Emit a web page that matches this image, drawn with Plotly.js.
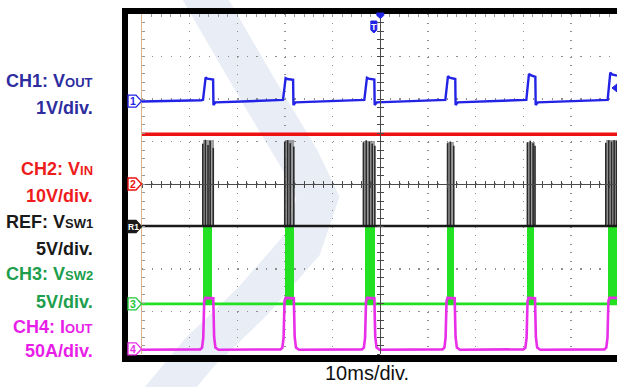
<!DOCTYPE html>
<html><head><meta charset="utf-8">
<script src="https://cdn.plot.ly/plotly-3.0.1.min.js"></script>
<style>html,body{margin:0;padding:0;background:#fff;overflow:hidden}#chart{width:617px;height:387px}</style>
</head><body><div id="chart"></div>
<script>
// ---- data: time in ms (10 ms/div), values in screen divisions (0 = centre graticule line)
const X_MAX = 99.65;
const Y_MIN = -4, Y_MAX = 4;

// CH1: Vout
const ch1T = [0, 6.0, 12.40, 12.80, 13.35, 13.70, 14.92, 14.99, 15.40, 21.0,
  29.18, 29.58, 30.13, 30.48, 31.70, 31.77, 32.20, 38.0,
  46.24, 46.64, 47.19, 47.54, 48.74, 48.81, 49.24, 55.0,
  63.24, 63.64, 64.19, 64.54, 65.72, 65.79, 66.22, 72.0,
  80.23, 80.63, 81.18, 81.53, 82.52, 82.59, 83.02, 89.0,
  97.29, 97.69, 98.24, 98.60, 99.65];
const ch1V = [1.94, 1.95, 1.97, 1.98, 2.51, 2.48, 2.46, 1.86, 1.92, 1.94,
  1.97, 1.98, 2.49, 2.47, 2.45, 1.86, 1.92, 1.94,
  1.97, 1.98, 2.50, 2.48, 2.46, 1.86, 1.92, 1.94,
  1.97, 1.98, 2.54, 2.50, 2.47, 1.86, 1.92, 1.94,
  1.97, 1.98, 2.59, 2.56, 2.52, 1.86, 1.92, 1.94,
  1.97, 1.98, 2.62, 2.58, 2.55];

// CH2: Vin
const ch2T = [0, 99.65];
const ch2V = [1.17, 1.17];

// REF: Vsw1
const refT = [0, 99.65];
const refV = [-0.99, -0.99];
const refBurstStart = [12.71, 29.90, 46.40, 64.05, 80.80, 97.25];
const refBurstEnd   = [15.02, 31.95, 48.90, 65.45, 82.50, 99.65];
const refBurstTop   = [1.03, 1.03, 1.02, 0.98, 1.00, 1.03];
const refSpikeT = [12.75, 13.30, 13.85, 14.30, 14.95,
  29.95, 30.55, 31.10, 31.85,
  46.45, 47.05, 47.70, 48.30, 48.85,
  64.10, 64.70, 65.40,
  80.85, 81.45, 82.05, 82.45,
  97.30, 97.90, 98.50, 99.05, 99.55];
const refSpikeTop = [0.95, 1.04, 0.92, 1.02, 0.85,
  1.00, 1.03, 0.96, 0.88,
  0.98, 1.03, 1.00, 0.95, 0.90,
  0.96, 1.00, 0.90,
  0.98, 1.02, 0.96, 0.90,
  0.97, 1.03, 1.00, 1.03, 1.02];

// CH3: Vsw2
const ch3T = [0, 99.65];
const ch3V = [-2.82, -2.82];
const ch3BurstStart = [12.80, 29.92, 46.80, 64.00, 80.80, 97.70];
const ch3BurstEnd   = [14.60, 31.80, 48.85, 65.40, 82.25, 99.65];
const ch3BurstTop   = [-0.96, -0.96, -0.96, -0.97, -0.96, -0.96];

// CH4: Iout
const ch4T = [0, 12.20, 12.60, 12.85, 13.05, 13.25, 14.95, 15.13, 15.40, 16.05,
  29.05, 29.45, 29.70, 29.90, 30.10, 31.85, 32.03, 32.30, 32.95,
  46.15, 46.55, 46.80, 47.00, 47.20, 48.75, 48.93, 49.20, 49.85,
  63.04, 63.44, 63.69, 63.89, 64.09, 65.60, 65.78, 66.05, 66.70,
  80.03, 80.43, 80.68, 80.88, 81.08, 82.45, 82.63, 82.90, 83.55,
  97.00, 97.40, 97.65, 97.85, 98.05, 99.65];
const ch4V = [-3.90, -3.89, -3.85, -3.62, -2.76, -2.68, -2.69, -3.60, -3.85, -3.90,
  -3.89, -3.85, -3.62, -2.76, -2.68, -2.69, -3.60, -3.85, -3.90,
  -3.89, -3.85, -3.62, -2.76, -2.68, -2.69, -3.60, -3.85, -3.90,
  -3.89, -3.85, -3.62, -2.76, -2.68, -2.69, -3.60, -3.85, -3.90,
  -3.89, -3.85, -3.62, -2.76, -2.68, -2.69, -3.60, -3.85, -3.90,
  -3.89, -3.85, -3.62, -2.76, -2.68, -2.68];

// channel ground markers (division level) and labels
const markerNames  = ['1', '2', 'R1', '3', '4'];
const markerLevels = [1.95, 0.0, -1.00, -2.82, -3.88];
const chNames  = ['CH1: V<span style="font-size:13px">OUT</span>',
                  'CH2: V<span style="font-size:13px">IN</span>',
                  'REF: V<span style="font-size:13px">SW1</span>',
                  'CH3: V<span style="font-size:13px">SW2</span>',
                  'CH4: I<span style="font-size:13px">OUT</span>'];
const chScales = ['1V/div.', '10V/div.', '5V/div.', '5V/div.', '50A/div.'];
const timeBase = '10ms/div.';

// ---- styles
const C_BLUE = '#2323e6', C_RED = '#ee1111', C_BLK = '#1a1a1a', C_GRN = '#22e022', C_MAG = '#e82ee8';
const TXT = ['#2d2d9f', '#ee1c1c', '#1a1a1a', '#1c9e4c', '#e81ee8'];
const MK = [C_BLUE, C_RED, C_BLK, '#22c83a', C_MAG];

// pixel helpers for decorations (plot area: x 142..617, y 14..354)
const L = 142, R = 617, T = 14, B = 354;
const px = x => (x - L) / (R - L);
const py = y => (B - y) / (B - T);
const lv = v => (v - Y_MIN) / (Y_MAX - Y_MIN);
const pathPx = pts => pts.map((p, i) => (i ? 'L' : 'M') + px(p[0]).toFixed(4) + ',' + py(p[1]).toFixed(4)).join(' ');

// ---- traces
const spikeX = [], spikeY = [];
refSpikeT.forEach((t, i) => { spikeX.push(t, t, null); spikeY.push(refV[0], refSpikeTop[i], null); });

const traces = [
  {type: 'bar', x: refBurstStart.map((s, i) => (s + refBurstEnd[i]) / 2), width: refBurstStart.map((s, i) => refBurstEnd[i] - s),
   base: refBurstStart.map(() => refV[0]), y: refBurstTop.map(t => t - refV[0]),
   marker: {color: 'rgba(85,85,85,0.55)', line: {width: 0}}, hoverinfo: 'skip'},
  {type: 'bar', x: ch3BurstStart.map((s, i) => (s + ch3BurstEnd[i]) / 2), width: ch3BurstStart.map((s, i) => ch3BurstEnd[i] - s),
   base: ch3BurstStart.map(() => ch3V[0]), y: ch3BurstTop.map(t => t - ch3V[0]),
   marker: {color: C_GRN, line: {width: 0}}, hoverinfo: 'skip'},
  {type: 'scatter', mode: 'lines', x: ch2T, y: ch2V, line: {color: C_RED, width: 3.5}},
  {type: 'scatter', mode: 'lines', x: spikeX, y: spikeY, line: {color: '#2a2a2a', width: 1.6}, connectgaps: false},
  {type: 'scatter', mode: 'lines', x: refT, y: refV, line: {color: C_BLK, width: 2.5}},
  {type: 'scatter', mode: 'lines', x: ch1T, y: ch1V, line: {color: C_BLUE, width: 2.4}},
  {type: 'scatter', mode: 'lines', x: ch3T, y: ch3V, line: {color: C_GRN, width: 2.6}},
  {type: 'scatter', mode: 'lines', x: ch4T, y: ch4V, line: {color: C_MAG, width: 2.6}},
  // carriers for the centre graticule axes
  {type: 'scatter', x: [null], y: [null], xaxis: 'x2', yaxis: 'y', hoverinfo: 'skip'},
  {type: 'scatter', x: [null], y: [null], xaxis: 'x3', yaxis: 'y', hoverinfo: 'skip'},
  {type: 'scatter', x: [null], y: [null], xaxis: 'x', yaxis: 'y2', hoverinfo: 'skip'},
  {type: 'scatter', x: [null], y: [null], xaxis: 'x', yaxis: 'y3', hoverinfo: 'skip'}
];

const edgeAxis = {showline: true, linecolor: '#d8b48c', linewidth: 1.5, ticks: 'inside', ticklen: 3, tickcolor: '#9a9a9a',
  showticklabels: false, zeroline: false, showgrid: true, gridcolor: '#8e8e8e', gridwidth: 1.2, fixedrange: true};
const centreX = {overlaying: 'x', anchor: 'free', position: 0.5, range: [0, X_MAX], showline: true, linecolor: '#4a4a4a', linewidth: 1,
  dtick: 2, tick0: 0, ticklen: 3, tickcolor: '#4a4a4a', showgrid: false, zeroline: false, showticklabels: false, fixedrange: true};
const centreY = {overlaying: 'y', anchor: 'free', position: 50 / X_MAX, side: 'left', range: [Y_MIN, Y_MAX], showline: true, linecolor: '#4a4a4a', linewidth: 1,
  dtick: 0.2, tick0: 0, ticklen: 3, tickcolor: '#4a4a4a', showgrid: false, zeroline: false, showticklabels: false, fixedrange: true};

const shapes = [
  // faint background watermark stroke
  {type: 'path', xref: 'paper', yref: 'paper', layer: 'below',
   path: pathPx([[200, -10], [258, 90], [300, 160], [318, 198], [302, 245], [252, 302], [200, 352], [160, 400]]),
   line: {color: '#e9eef6', width: 40}},
  // black scope frame
  {type: 'rect', xref: 'paper', yref: 'paper', x0: px(122), x1: px(128), y0: py(362), y1: py(8), fillcolor: '#000', line: {width: 0}},
  {type: 'rect', xref: 'paper', yref: 'paper', x0: px(122), x1: 1, y0: py(14), y1: py(8), fillcolor: '#000', line: {width: 0}},
  {type: 'rect', xref: 'paper', yref: 'paper', x0: px(122), x1: 1, y0: py(362), y1: py(355), fillcolor: '#000', line: {width: 0}},
  // trigger position marker (top) and T marker
  {type: 'path', xref: 'x', yref: 'paper', xsizemode: 'pixel', ysizemode: 'pixel', xanchor: 50, yanchor: 1,
   path: 'M-3.5,1 L3.5,1 L3.5,-1.5 L0,-4.5 L-3.5,-1.5 Z', fillcolor: C_BLUE, line: {color: C_BLUE, width: 1}},
  {type: 'path', xref: 'x', yref: 'paper', xsizemode: 'pixel', ysizemode: 'pixel', xanchor: 50, yanchor: 1,
   path: 'M-9.5,-7 L-3.5,-7 L-3.5,-16 L-6.5,-19 L-9.5,-16 Z', fillcolor: C_BLUE, line: {color: C_BLUE, width: 1}},
  // CH1 trigger level marker at right edge
  {type: 'path', xref: 'paper', yref: 'paper', xsizemode: 'pixel', ysizemode: 'pixel', xanchor: 1, yanchor: lv(2.26),
   path: 'M0,4 L0,-4 L-5,0 Z', fillcolor: C_BLUE, line: {color: C_BLUE, width: 1}}
];
markerLevels.forEach((v, i) => {
  shapes.push({type: 'path', xref: 'paper', yref: 'paper', xsizemode: 'pixel', ysizemode: 'pixel', xanchor: 0, yanchor: lv(v),
    path: 'M-14,-6 L-6,-6 L-0.5,0 L-6,6 L-14,6 Z',
    fillcolor: i === 2 ? '#1a1a1a' : '#ffffff', line: {color: MK[i], width: 1.4}});
});

const FONT = 'Liberation Sans, Arial, Helvetica, sans-serif';
const annotations = [];
const nameBase  = [88, 175.5, 228, 280, 333];
const scaleBase = [114, 202, 255, 308, 357];
chNames.forEach((t, i) => {
  annotations.push({xref: 'paper', yref: 'paper', x: px(95), y: py(nameBase[i] - 6.5), xanchor: 'right', yanchor: 'middle',
    text: '<b>' + t + '</b>', showarrow: false, font: {family: FONT, size: 18, color: TXT[i]}});
  annotations.push({xref: 'paper', yref: 'paper', x: px(95), y: py(scaleBase[i] - 6.5), xanchor: 'right', yanchor: 'middle',
    text: '<b>' + chScales[i] + '</b>', showarrow: false, font: {family: FONT, size: 18, color: TXT[i]}});
});
markerNames.forEach((n, i) => {
  annotations.push({xref: 'paper', yref: 'paper', x: 0, xshift: -9, y: lv(markerLevels[i]), xanchor: 'center', yanchor: 'middle',
    text: '<b>' + n + '</b>', showarrow: false, font: {family: FONT, size: n.length > 1 ? 8.5 : 10.5, color: i === 2 ? '#ffffff' : MK[i]}});
});
annotations.push({xref: 'x', yref: 'paper', x: 50, xshift: -6.5, y: 1, yshift: -13, xanchor: 'center', yanchor: 'middle',
  text: '<b>T</b>', showarrow: false, font: {family: FONT, size: 9, color: '#ffffff'}});
annotations.push({xref: 'paper', yref: 'paper', x: px(367.3), y: py(373), xanchor: 'center', yanchor: 'middle',
  text: timeBase, showarrow: false, font: {family: FONT, size: 20, color: '#111111'}});

const layout = {
  width: 617, height: 387,
  margin: {l: L, r: 617 - R, t: T, b: 387 - B, pad: 0},
  paper_bgcolor: '#ffffff', plot_bgcolor: 'rgba(0,0,0,0)',
  showlegend: false, barmode: 'overlay', bargap: 0,
  xaxis: Object.assign({}, edgeAxis, {range: [0, X_MAX], side: 'top', tick0: 0, dtick: 10, griddash: '1.2px,7.3px',
    minor: {tick0: 0, dtick: 2, ticks: 'inside', ticklen: 3, tickcolor: '#9a9a9a', showgrid: false}}),
  yaxis: Object.assign({}, edgeAxis, {range: [Y_MIN, Y_MAX], tick0: 0, dtick: 1, griddash: '1.2px,8.33px',
    minor: {tick0: 0, dtick: 0.2, ticks: 'inside', ticklen: 3, tickcolor: '#9a9a9a', showgrid: false}}),
  xaxis2: Object.assign({}, centreX, {ticks: 'inside'}),
  xaxis3: Object.assign({}, centreX, {ticks: 'outside'}),
  yaxis2: Object.assign({}, centreY, {ticks: 'inside'}),
  yaxis3: Object.assign({}, centreY, {ticks: 'outside'}),
  shapes: shapes,
  annotations: annotations
};

Plotly.newPlot('chart', traces, layout, {staticPlot: true, displayModeBar: false});
</script>
</body></html>
